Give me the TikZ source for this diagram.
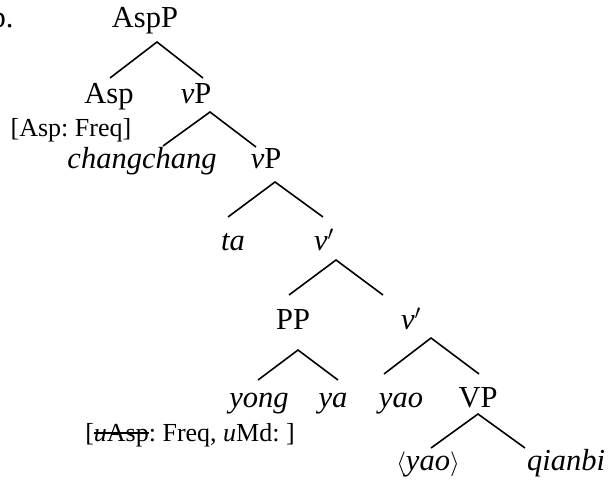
\documentclass[tikz,border=0pt]{standalone}
\usepackage{fontspec}
\setmainfont{Liberation Serif}
\usetikzlibrary{calc}
\frenchspacing

\newcommand{\xout}[1]{\setbox0\hbox{#1}\rlap{\raisebox{0.27em}{\rule{\wd0}{0.06em}}}\box0}

\tikzset{
  cat/.style={anchor=base,inner sep=0pt,font=\fontsize{30.5}{35}\selectfont},
  feat/.style={anchor=base,inner sep=0pt,font=\fontsize{26}{30}\selectfont},
  branch/.style={line width=1.6pt}
}

\begin{document}
\begin{tikzpicture}[x=1pt,y=-1pt]
\useasboundingbox (0,0) rectangle (609,484);

% Example label
\node[cat] (lbl) at (2,28) {b.};

% Labels of the tree
\node[cat] (aspp) at (145,28) {AspP};
\node[cat] (asp) at (109,103) {Asp};
\node[cat] (vp1) at (196,103) {\textit{v}P};
\node[feat] (aspfeat) at (71,136) {[Asp: Freq]};
\node[cat] (chang) at (142,168) {\textit{changchang}};
\node[cat] (vp2) at (266,168) {\textit{v}P};
\node[cat] (ta) at (233,250) {\textit{ta}};
\node[cat] (vbar1) at (324,250) {\textit{v}$'$};
\node[cat] (pp) at (293,329) {PP};
\node[cat] (vbar2) at (411,329) {\textit{v}$'$};
\node[cat] (yong) at (259,407) {\textit{yong}};
\node[cat] (ya) at (333,407) {\textit{ya}};
\node[cat] (yao) at (401,407) {\textit{yao}};
\node[cat] (vp3) at (478,407) {VP};
\node[feat] (ufeat) at (190,441) {[\xout{\textit{u}Asp}: Freq, \textit{u}Md: ]};
\node[cat] (tyao) at (428,470) {$\langle$\textit{yao}$\rangle$};
\node[cat] (qianbi) at (566,470) {\textit{qianbi}};

% Branches
\draw[branch] ($(asp.base)+(1,-25)$) -- ($(aspp.base)+(12,14)$) -- ($(vp1.base)+(7,-25)$);
\draw[branch] ($(chang.base)+(21,-22)$) -- ($(vp1.base)+(14,9)$) -- ($(vp2.base)+(-10,-21)$);
\draw[branch] ($(ta.base)+(-5,-33)$) -- ($(vp2.base)+(9,14)$) -- ($(vbar1.base)+(-1,-33)$);
\draw[branch] ($(pp.base)+(-4,-34)$) -- ($(vbar1.base)+(12,10)$) -- ($(vbar2.base)+(-28,-34)$);
\draw[branch] ($(yong.base)+(-1,-27)$) -- ($(pp.base)+(5,21)$) -- ($(ya.base)+(5,-27)$);
\draw[branch] ($(yao.base)+(-17,-33)$) -- ($(vbar2.base)+(20,9)$) -- ($(vp3.base)+(1,-33)$);
\draw[branch] ($(tyao.base)+(3,-22)$) -- ($(vp3.base)+(0,7)$) -- ($(qianbi.base)+(-41,-22)$);

\end{tikzpicture}
\end{document}
